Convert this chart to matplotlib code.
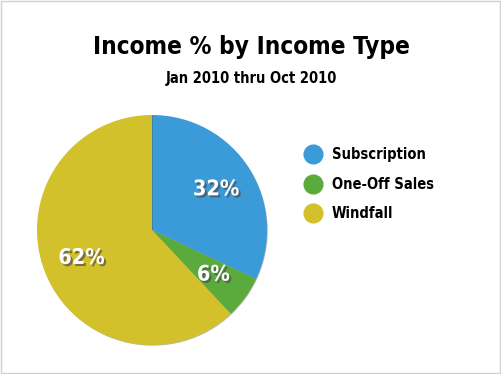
import matplotlib.pyplot as plt
from matplotlib.lines import Line2D
import matplotlib.patheffects as pe

# data
labels = ["Subscription", "One-Off Sales", "Windfall"]
shares = [32, 6, 62]
colors = ["#3b9bd8", "#5aab3c", "#d3c12b"]

title = "Income % by Income Type"
subtitle = "Jan 2010 thru Oct 2010"

plt.rcParams["font.family"] = ["DejaVu Sans"]
plt.rcParams["font.stretch"] = "condensed"

fig = plt.figure(figsize=(5.02, 3.74), dpi=100)
fig.patch.set_facecolor("white")
fig.patches.append(plt.Rectangle((0.002, 0.003), 0.995, 0.994, transform=fig.transFigure,
                                 fill=False, edgecolor="#d0d0d0", lw=1))

ax = fig.add_axes([37/502, 29/374, 230/502, 230/374])
wedges, texts, autotexts = ax.pie(shares, colors=colors, startangle=90, counterclock=False,
                                  autopct="%d%%", pctdistance=0.66,
                                  wedgeprops=dict(linewidth=0))
for w in wedges:
    w.set_path_effects([pe.SimplePatchShadow(offset=(0.5, -0.5), alpha=0.35), pe.Normal()])
for t in autotexts:
    t.set_color("white")
    t.set_fontsize(15.5)
    t.set_fontweight("bold")
    t.set_path_effects([pe.SimplePatchShadow(offset=(1.5, -1.5), alpha=0.7), pe.Normal()])
ax.set_xlim(-1, 1)
ax.set_ylim(-1, 1)
ax.set_aspect("equal")

fig.text(0.5, 1 - 47/374, title, ha="center", va="center", fontsize=17.5, fontweight="bold")
fig.text(0.5, 1 - 79/374, subtitle, ha="center", va="center", fontsize=10.5, fontweight="bold")

handles = [Line2D([], [], marker="o", linestyle="none", markersize=13.5,
                  markerfacecolor=c, markeredgecolor=c) for c in colors]
fig.legend(handles, labels, loc="upper left", bbox_to_anchor=(291/502, 1 - 134/374),
           frameon=False, prop=dict(weight="bold", size=10.5),
           handletextpad=0.7, labelspacing=1.0, handlelength=1.2)

fig.savefig("out.png", dpi=100)
